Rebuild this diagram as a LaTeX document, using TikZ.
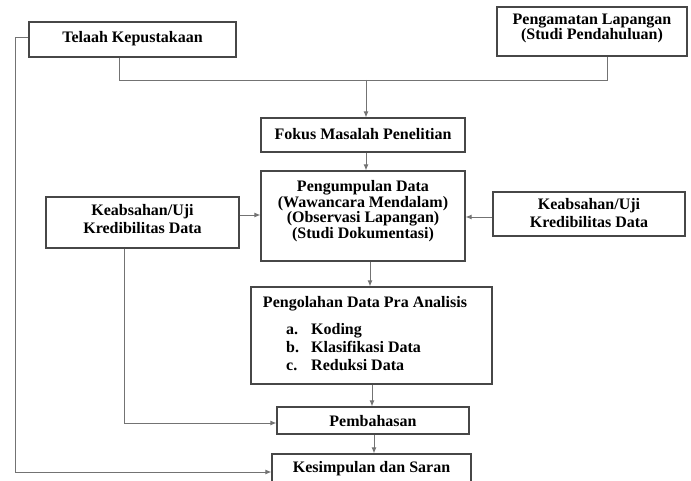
\documentclass[tikz,border=0pt]{standalone}
\usepackage{fontspec}
\setmainfont{Liberation Serif}
\usetikzlibrary{arrows.meta}
\begin{document}
\begin{tikzpicture}[x=1pt,y=-1pt,
  frame/.style={draw=black!72,line width=1.2pt,rectangle,inner sep=0pt},
  txt/.style={inner sep=0pt,align=center,font=\fontsize{16}{15.5}\selectfont\bfseries},
  conn/.style={draw=black!55,line width=0.9pt},
  arr/.style={conn,-{Latex[length=6pt,width=5pt]}}]
\useasboundingbox (0,0) rectangle (691,481);
\node[frame,minimum width=207pt,minimum height=35pt] (telaah) at (132.5,39.5) {};
\node[txt] (telaahT) at (132.5,39) {Telaah Kepustakaan};
\node[frame,minimum width=190pt,minimum height=49pt] (pengamatan) at (592,31.5) {};
\node[txt] (pengamatanT) at (592,28.5) {Pengamatan Lapangan\\(Studi Pendahuluan)};
\node[frame,minimum width=204pt,minimum height=34pt] (fokus) at (363,135) {};
\node[txt] (fokusT) at (363,134.5) {Fokus Masalah Penelitian};
\node[frame,minimum width=204pt,minimum height=90pt] (pengumpulan) at (363,216) {};
\node[txt] (pengumpulanT) at (363,211) {Pengumpulan Data\\(Wawancara Mendalam)\\(Observasi Lapangan)\\(Studi Dokumentasi)};
\node[frame,minimum width=193pt,minimum height=51pt] (kiri) at (142.5,222.5) {};
\node[txt,font=\fontsize{16}{18}\selectfont\bfseries] (kiriT) at (142.5,219) {Keabsahan/Uji\\Kredibilitas Data};
\node[frame,minimum width=192pt,minimum height=44pt] (kanan) at (589,214) {};
\node[txt,font=\fontsize{16}{18}\selectfont\bfseries] (kananT) at (589,213) {Keabsahan/Uji\\Kredibilitas Data};
\node[frame,minimum width=241pt,minimum height=97pt] (pengolahan) at (371.5,335.5) {};
\node[txt,anchor=base] (pt) at (365,307) {Pengolahan Data Pra Analisis};
\node[txt,anchor=base west] (la) at (286,334) {a.};
\node[txt,anchor=base west] (lb) at (286,352) {b.};
\node[txt,anchor=base west] (lc) at (286,370) {c.};
\node[txt,anchor=base west] (ta) at (311,334) {Koding};
\node[txt,anchor=base west] (tb) at (311,352) {Klasifikasi Data};
\node[txt,anchor=base west] (tc) at (311,370) {Reduksi Data};
\node[frame,minimum width=192pt,minimum height=27pt] (pembahasan) at (373,420.5) {};
\node[txt] (pembahasanT) at (373,421) {Pembahasan};
\node[frame,minimum width=199pt,minimum height=30pt] (kesimpulan) at (371.5,469) {};
\node[txt] (kesimpulanT) at (371.5,468.5) {Kesimpulan dan Saran};
% top joining lines
\coordinate (tk) at (119,80);
\coordinate (pg) at (607,80);
\coordinate (j) at (366,80);
\draw[conn] (telaah.south -| tk) -- (tk) -- (pg) -- (pengamatan.south -| pg);
\draw[arr] (j) -- (j |- fokus.north);
\draw[arr] (fokus.south -| j) -- (pengumpulan.north -| j);
\coordinate (x2) at (370,0);
\draw[arr] (pengumpulan.south -| x2) -- (pengolahan.north -| x2);
\coordinate (x3) at (372,0);
\draw[arr] (pengolahan.south -| x3) -- (pembahasan.north -| x3);
\coordinate (x4) at (374,0);
\draw[arr] (pembahasan.south -| x4) -- (kesimpulan.north -| x4);
% side arrows
\coordinate (yl) at (0,215);
\draw[arr] (kiri.east |- yl) -- (pengumpulan.west |- yl);
\coordinate (yr) at (0,217);
\draw[arr] (kanan.west |- yr) -- (pengumpulan.east |- yr);
% left feedback
\coordinate (kb) at (124,423);
\draw[arr] (kiri.south -| kb) -- (kb) -- (pembahasan.west |- kb);
\coordinate (lt) at (15,37);
\coordinate (lb2) at (15,472);
\draw[arr] (telaah.west |- lt) -- (lt) -- (lb2) -- (kesimpulan.west |- lb2);
\end{tikzpicture}
\end{document}
